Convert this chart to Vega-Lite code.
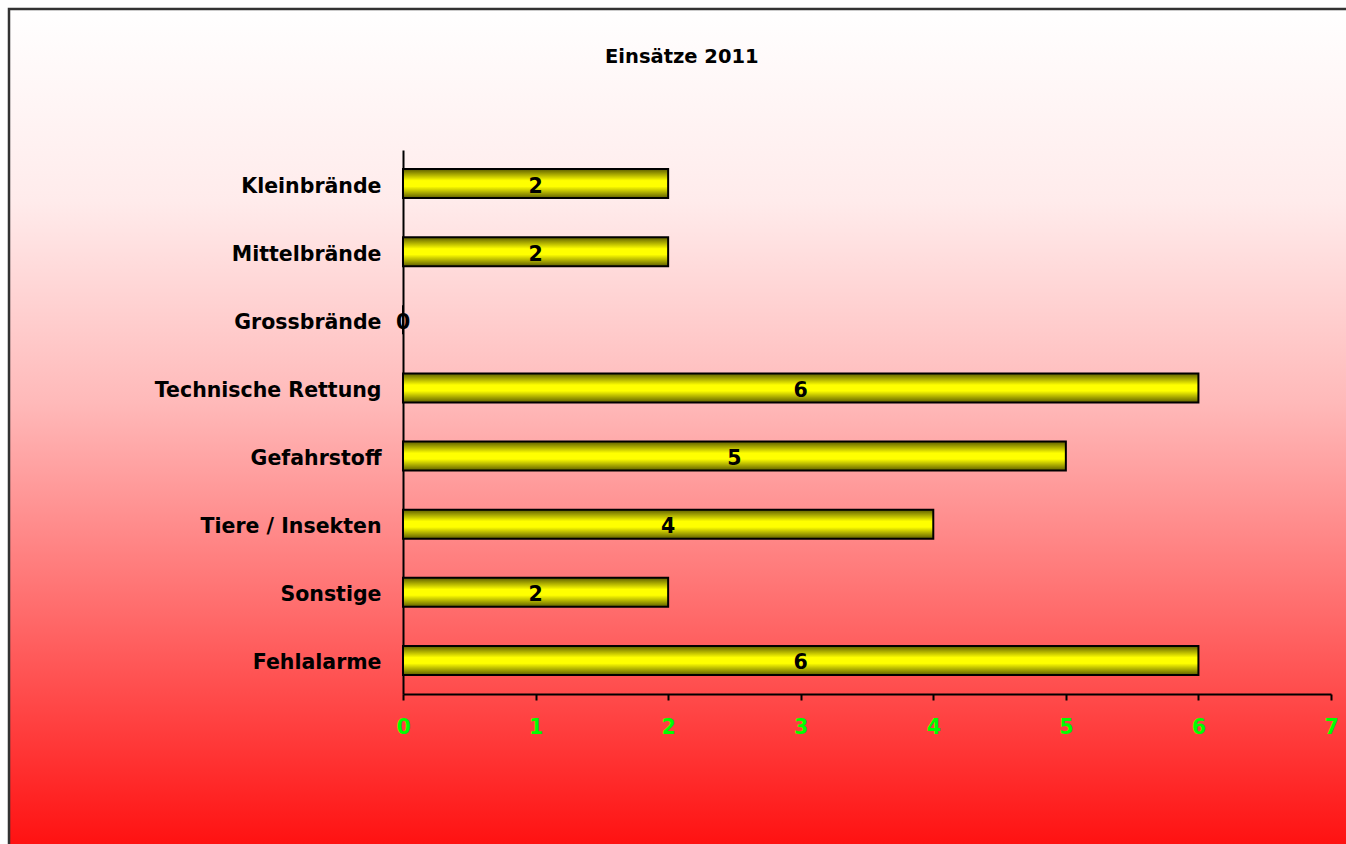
{
  "$schema": "https://vega.github.io/schema/vega-lite/v6.json",
  "width": 1341,
  "height": 839,
  "autosize": {"type": "none"},
  "padding": {"left": 9, "top": 9, "right": -4, "bottom": -4},
  "background": "white",
  "title": {
    "text": "Einsätze 2011",
    "font": "DejaVu Sans",
    "fontSize": 19.5,
    "fontWeight": "bold",
    "color": "black",
    "anchor": "start",
    "baseline": "middle",
    "offset": -67,
    "dx": 596
  },
  "data": {
    "values": [
      {"cat": "Kleinbrände", "v": 2},
      {"cat": "Mittelbrände", "v": 2},
      {"cat": "Grossbrände", "v": 0},
      {"cat": "Technische Rettung", "v": 6},
      {"cat": "Gefahrstoff", "v": 5},
      {"cat": "Tiere / Insekten", "v": 4},
      {"cat": "Sonstige", "v": 2},
      {"cat": "Fehlalarme", "v": 6}
    ]
  },
  "encoding": {
    "y": {
      "field": "cat",
      "type": "nominal",
      "sort": null,
      "scale": {"range": [141, 685], "paddingInner": 0.575, "paddingOuter": 0.28},
      "axis": {
        "offset": -394,
        "ticks": false,
        "domainColor": "black",
        "domainWidth": 2,
        "labelColor": "black",
        "labelFont": "DejaVu Sans",
        "labelFontSize": 20.5,
        "labelFontWeight": "bold",
        "labelPadding": 22,
        "labelLimit": 0,
        "labelBaseline": "middle",
        "labelOffset": 3,
        "title": null
      }
    }
  },
  "layer": [
    {
      "mark": {
        "type": "bar",
        "stroke": "black",
        "strokeWidth": 2,
        "fill": {
          "gradient": "linear",
          "x1": 0, "y1": 0, "x2": 0, "y2": 1,
          "stops": [
            {"offset": 0, "color": "#5e5e00"},
            {"offset": 0.4, "color": "#ffff00"},
            {"offset": 0.6, "color": "#ffff00"},
            {"offset": 1, "color": "#5e5e00"}
          ]
        }
      },
      "encoding": {
        "x": {
          "field": "v",
          "type": "quantitative",
          "scale": {"domain": [0, 7], "range": [394, 1322], "nice": false},
          "axis": {
            "offset": -154,
            "values": [0, 1, 2, 3, 4, 5, 6, 7],
            "grid": false,
            "domainColor": "black",
            "domainWidth": 2,
            "tickColor": "black",
            "tickWidth": 2,
            "tickSize": 6,
            "labelColor": "#00ff00",
            "labelFont": "DejaVu Sans",
            "labelFontSize": 20.5,
            "labelFontWeight": "bold",
            "labelPadding": 17,
            "labelFlush": false,
            "title": null
          }
        }
      }
    },
    {
      "mark": {
        "type": "text",
        "font": "DejaVu Sans",
        "fontSize": 20.5,
        "fontWeight": "bold",
        "color": "black",
        "baseline": "middle",
        "align": "center",
        "dy": 3
      },
      "encoding": {
        "x": {
          "field": "v",
          "type": "quantitative",
          "scale": {"domain": [0, 14], "range": [394, 1322], "nice": false},
          "axis": null
        },
        "text": {"field": "v", "type": "quantitative"}
      }
    }
  ],
  "resolve": {"scale": {"x": "independent"}},
  "config": {
    "view": {
      "stroke": "#333333",
      "strokeWidth": 2.5,
      "fill": {
        "gradient": "linear",
        "x1": 0, "y1": 0, "x2": 0, "y2": 1,
        "stops": [
          {"offset": 0, "color": "#ffffff"},
          {"offset": 0.23, "color": "#ffebeb"},
          {"offset": 0.47, "color": "#ffb9b9"},
          {"offset": 0.71, "color": "#ff6e6e"},
          {"offset": 1, "color": "#ff1010"}
        ]
      }
    }
  }
}
